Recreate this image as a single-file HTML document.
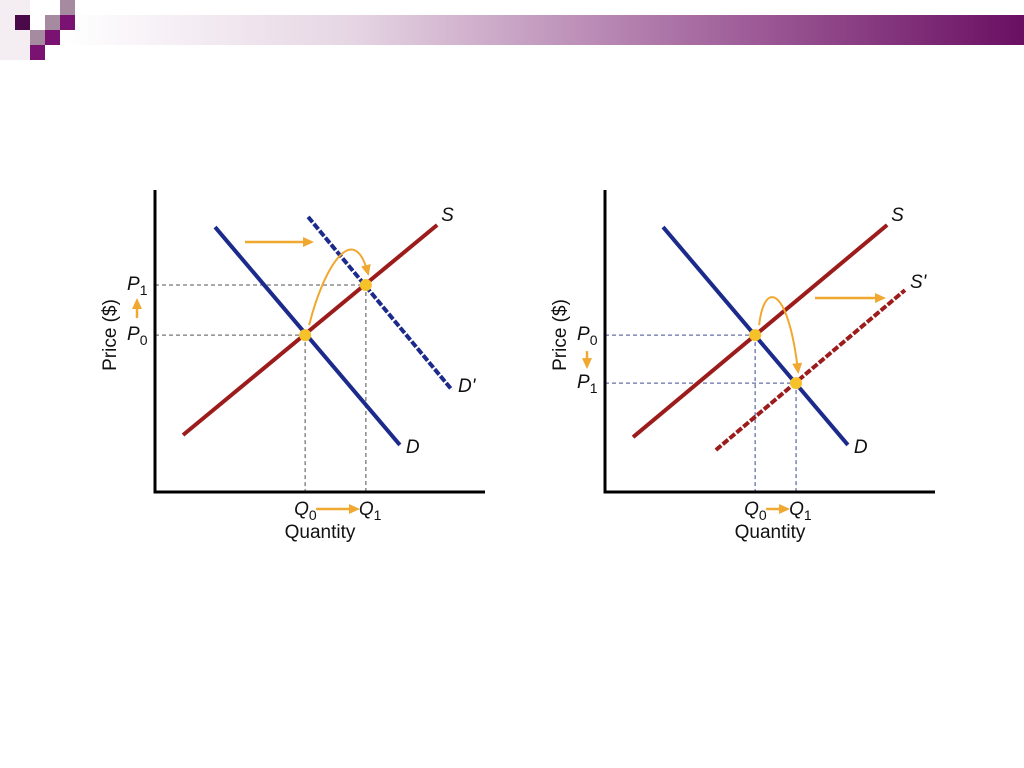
<!DOCTYPE html>
<html><head><meta charset="utf-8"><style>
html,body{margin:0;padding:0;width:1024px;height:768px;background:#fff;overflow:hidden}
svg{display:block}
text{font-family:"Liberation Sans",sans-serif}
</style></head><body>
<svg id="s" width="1024" height="768" viewBox="0 0 1024 768">
<defs>
<linearGradient id="bar" x1="0" x2="1" y1="0" y2="0">
<stop offset="0" stop-color="#ffffff"/><stop offset="0.3" stop-color="#e6d6e4"/><stop offset="0.7" stop-color="#a0609a"/><stop offset="1" stop-color="#6a0f62"/>
</linearGradient>
<marker id="ah" markerWidth="11" markerHeight="10" refX="8" refY="5" orient="auto" markerUnits="userSpaceOnUse"><path d="M0,0 L11,5 L0,10 Z" fill="#f0a830"/></marker>
</defs>
<g>
<rect x="0" y="0" width="30" height="60" fill="#f4eef3"/>
<rect x="62" y="15" width="962" height="30" fill="url(#bar)"/>
<rect x="15" y="15" width="15" height="15" fill="#4a0a4a"/>
<rect x="45" y="15" width="15" height="15" fill="#a58aa0"/>
<rect x="60" y="0" width="15" height="15" fill="#a58aa0"/>
<rect x="60" y="15" width="15" height="15" fill="#7a1272"/>
<rect x="30" y="30" width="15" height="15" fill="#a58aa0"/>
<rect x="45" y="30" width="15" height="15" fill="#7a1272"/>
<rect x="30" y="45" width="15" height="15" fill="#7a1272"/>
</g>
<g id="charts"></g>
</svg>
<script>
// data in chart units (x: quantity 0..10, y: price 0..10)
const leftD=[[1.82,8.83],[7.42,1.57]];
const leftS=[[0.85,1.9],[8.55,8.9]];
const leftD2=[[4.64,9.17],[9.0,3.4]];
const leftE=[[4.55,5.23],[6.39,6.9]];
const rightD=[[1.76,8.83],[7.36,1.57]];
const rightS=[[0.85,1.83],[8.55,8.9]];
const rightS2=[[3.36,1.4],[9.09,6.73]];
const rightE=[[4.55,5.23],[5.79,3.63]];

const NS='http://www.w3.org/2000/svg';
const root=document.getElementById('charts');
function mk(tag,at,parent,txt){const e=document.createElementNS(NS,tag);for(const k in at)e.setAttribute(k,at[k]);if(txt!==undefined)e.textContent=txt;(parent||root).appendChild(e);return e;}
function panel(ox,name,D,S,shifted,E,shiftIsSupply){
  const sx=u=>ox+u*33, sy=u=>492-u*30;
  const g=mk('g',{});
  
  
  const guide=shiftIsSupply?'#6670a8':'#777';
  E.forEach((p,i)=>{
    const h=mk('line',{x1:ox,y1:sy(p[1]),x2:sx(p[0]),y2:sy(p[1]),stroke:guide,'stroke-width':1.3,'stroke-dasharray':'4,3'},g);
    
    
    const v=mk('line',{x1:sx(p[0]),y1:sy(p[1]),x2:sx(p[0]),y2:492,stroke:guide,'stroke-width':1.3,'stroke-dasharray':'4,3'},g);
    
    
  });
  const ya=mk('line',{x1:ox,y1:190,x2:ox,y2:493.5,stroke:'#000','stroke-width':3},g);
  
  const xa=mk('line',{x1:ox-1.5,y1:492,x2:ox+330,y2:492,stroke:'#000','stroke-width':3},g);
  
  const line=(pts,col,dash,n)=>{const l=mk('line',{x1:sx(pts[0][0]),y1:sy(pts[0][1]),x2:sx(pts[1][0]),y2:sy(pts[1][1]),stroke:col,'stroke-width':4},g);if(dash)l.setAttribute('stroke-dasharray','7,2');};
  line(D,'#1c2a8c',false,'demand-curve');
  line(S,'#9c1c1c',false,'supply-curve');
  line(shifted,shiftIsSupply?'#9c1c1c':'#1c2a8c',true,shiftIsSupply?'new-supply-curve':'new-demand-curve');
  E.forEach((p,i)=>{const c=mk('circle',{cx:sx(p[0]),cy:sy(p[1]),r:6,fill:'#f5c22a'},g);});
  const lab=(x,y,t,n,sub,fs)=>{const tx=mk('text',{x:x,y:y,'font-size':fs||19,'font-style':'italic',fill:'#111'},g);tx.textContent=t;if(sub!==undefined){mk('tspan',{dy:5,'font-size':14,'font-style':'normal'},tx,sub);}return tx;};
  lab(sx(S[1][0])+4,sy(S[1][1])-4,'S','supply-label');
  lab(sx(D[1][0])+6,sy(D[1][1])+8,'D','demand-label');
  if(shiftIsSupply) lab(sx(shifted[1][0])+5,sy(shifted[1][1])-2,"S'",'new-supply-label');
  else lab(sx(shifted[1][0])+6,sy(shifted[1][1])+2,"D'",'new-demand-label');
  const pHi=shiftIsSupply?E[0]:E[1], pLo=shiftIsSupply?E[1]:E[0];
  lab(ox-28,sy(E[0][1])+5,'P','p0-label','0');
  lab(ox-28,sy(E[1][1])+5,'P','p1-label','1');
  const ay1=sy(pLo[1])-17, ay2=sy(pHi[1])+16;
  const pa=mk('line',shiftIsSupply?{x1:ox-18,y1:ay2,x2:ox-18,y2:ay1}:{x1:ox-18,y1:ay1,x2:ox-18,y2:ay2},g);
  pa.setAttribute('stroke','#f0a830');pa.setAttribute('stroke-width',2.5);pa.setAttribute('marker-end','url(#ah)');
  
  lab(sx(E[0][0])-11,515,'Q','q0-label','0');
  lab(sx(E[1][0])-7,515,'Q','q1-label','1');
  const qa=mk('line',{x1:sx(E[0][0])+11,y1:509,x2:sx(E[1][0])-9,y2:509,stroke:'#f0a830','stroke-width':2.5,'marker-end':'url(#ah)'},g);
  
  const qt=mk('text',{x:ox+165,y:538,'font-size':19,'text-anchor':'middle',fill:'#111'},g,'Quantity');
  
  const pt=mk('text',{x:0,y:0,'font-size':19,'text-anchor':'middle',fill:'#111',transform:'translate('+(ox-39)+',335) rotate(-90)'},g,'Price ($)');
  
  const sa=shiftIsSupply?mk('line',{x1:ox+210,y1:298,x2:ox+278,y2:298},g):mk('line',{x1:ox+90,y1:242,x2:ox+156,y2:242},g);
  sa.setAttribute('stroke','#f0a830');sa.setAttribute('stroke-width',2.5);sa.setAttribute('marker-end','url(#ah)');
  
  const a=[sx(E[0][0])+4,sy(E[0][1])-10], b=[sx(E[1][0])+2,sy(E[1][1])-12];
  const d=shiftIsSupply?`M${a[0]},${a[1]} C${a[0]+5},${a[1]-45} ${b[0]-10},${a[1]-40} ${b[0]},${b[1]}`
    :`M${a[0]},${a[1]} C${a[0]+15},${a[1]-60} ${a[0]+45},${a[1]-105} ${b[0]},${b[1]}`;
  const ca=mk('path',{d:d,fill:'none',stroke:'#f0a830','stroke-width':2,'marker-end':'url(#ah)'},g);
  
}
panel(155,'demand-shift-chart',leftD,leftS,leftD2,leftE,false);
panel(605,'supply-shift-chart',rightD,rightS,rightS2,rightE,true);
</script>
</body></html>
